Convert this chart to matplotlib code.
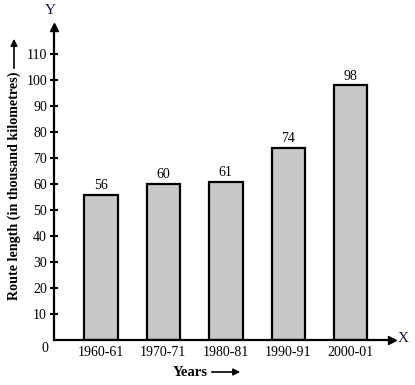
import matplotlib
matplotlib.use("Agg")
import matplotlib.pyplot as plt

categories = ["1960-61", "1970-71", "1980-81", "1990-91", "2000-01"]
values = [56, 60, 61, 74, 98]
yticks = [10, 20, 30, 40, 50, 60, 70, 80, 90, 100, 110]

plt.rcParams['font.family'] = ['Liberation Serif', 'DejaVu Serif']

W, H = 415, 385
fig = plt.figure(figsize=(W / 100, H / 100), dpi=100)
ax = fig.add_axes([54 / W, 45 / H, (392 - 54) / W, (340 - 27) / H])

x = list(range(len(categories)))
bars = ax.bar(x, values, width=0.535, color='#c8c8c8', edgecolor='black', linewidth=1.6)
for xi, v in zip(x, values):
    ax.annotate(str(v), (xi, v), xytext=(0, 2), textcoords='offset points',
                ha='center', va='bottom', fontsize=10)

ax.set_xlim(-0.75, 4.66)
ax.set_ylim(0, 120.5)
ax.set_xticks(x)
ax.set_xticklabels(categories, fontsize=10)
ax.tick_params(axis='x', length=0, pad=4)
ax.set_yticks(yticks)
ax.set_yticklabels([str(t) for t in yticks], fontsize=10)
ax.tick_params(axis='y', direction='inout', length=6, width=1.5, pad=2)

for s in ['top', 'right']:
    ax.spines[s].set_visible(False)
for s in ['left', 'bottom']:
    ax.spines[s].set_linewidth(1.6)

ax.plot(1, 0, '>k', markersize=6, transform=ax.get_yaxis_transform(), clip_on=False)
ax.plot(-0.75, 1, '^k', markersize=6, transform=ax.get_xaxis_transform(), clip_on=False)

fig.text(403 / W, 1 - 338 / H, "X", fontsize=11, color='#1a1a3a', ha='center', va='center')
fig.text(50 / W, 1 - 10 / H, "Y", fontsize=11, color='#1a1a3a', ha='center', va='center')
fig.text(45 / W, 1 - 348 / H, "0", fontsize=10, ha='center', va='center')

fig.text(14 / W, 1 - 186 / H, "Route length (in thousand kilometres)", rotation=90,
         fontsize=10.2, fontweight='bold', ha='center', va='center')
ax.annotate('', xy=(14, H - 36), xytext=(14, H - 71), xycoords='figure pixels',
            textcoords='figure pixels',
            arrowprops=dict(arrowstyle='-|>', color='black', lw=1.2, mutation_scale=10))

fig.text(190 / W, 13 / H, "Years", fontsize=10.5, fontweight='bold', ha='center', va='center')
ax.annotate('', xy=(243, 13), xytext=(209, 13), xycoords='figure pixels',
            textcoords='figure pixels',
            arrowprops=dict(arrowstyle='-|>', color='black', lw=1.2, mutation_scale=10))

fig.savefig("out.png", dpi=100)
